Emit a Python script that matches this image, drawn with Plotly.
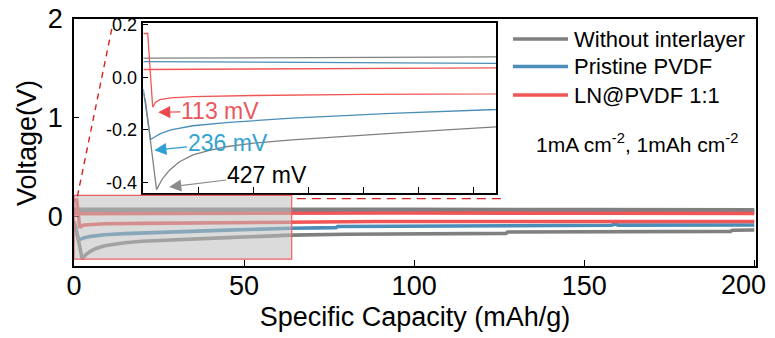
import plotly.graph_objects as go

# ---------------- data (specific capacity in mAh/g, voltage in V) ----------------
series_names = ["Without interlayer", "Pristine PVDF", "LN@PVDF 1:1"]
series_colors = ["#808080", "#4A8DB8", "#F05656"]

# stripping branch (upper, positive voltage)
gray_up_cap = [0, 20, 40, 64, 100, 150, 200]
gray_up_v = [0.073, 0.075, 0.077, 0.078, 0.074, 0.071, 0.069]
blue_up_cap = [0, 20, 40, 64, 100, 150, 200]
blue_up_v = [0.060, 0.058, 0.055, 0.053, 0.052, 0.051, 0.050]
red_up_cap = [0, 20, 40, 64, 91, 92, 94, 95, 150, 200]
red_up_v = [0.030, 0.032, 0.034, 0.036, 0.036, 0.044, 0.044, 0.036, 0.034, 0.033]

# plating branch (lower, nucleation dip then plateau)
gray_dn_cap = [0, 0.4, 2.4, 3.5, 4.8, 6.5, 9, 12, 15, 20, 27, 35, 45, 55, 64,
               80, 127, 127.5, 193, 193.5, 200]
gray_dn_v = [-0.06, -0.09, -0.427, -0.385, -0.352, -0.322, -0.295, -0.278, -0.264,
             -0.250, -0.238, -0.226, -0.213, -0.200, -0.188,
             -0.178, -0.170, -0.156, -0.150, -0.138, -0.136]
blue_dn_cap = [0, 1.3, 2, 3, 5, 7, 9, 15, 27, 45, 64, 77, 77.5, 105, 105.5,
               158, 159, 160, 200]
blue_dn_v = [-0.045, -0.236, -0.228, -0.215, -0.200, -0.191, -0.184, -0.172, -0.155,
             -0.137, -0.118, -0.112, -0.100, -0.097, -0.090,
             -0.088, -0.076, -0.086, -0.085]
red_dn_cap = [0, 0.8, 1.7, 2.2, 3, 5, 9, 20, 40, 64, 88, 88.5, 200]
red_dn_v = [0.167, 0.167, -0.113, -0.095, -0.085, -0.078, -0.073, -0.069, -0.065,
            -0.060, -0.058, -0.050, -0.050]

# nucleation overpotentials stated on the inset (mV)
overpotentials = [427, 236, 113]

# axis settings
main_x_range = [0, 200.5]
main_y_range = [-0.5, 2.0]
main_x_ticks = [0, 50, 100, 150, 200]
main_x_labels = ["0", "50", "100", "150", "200"]
main_y_ticks = [0, 1, 2]
inset_x_range = [0, 64]
inset_y_range = [-0.44, 0.207]
inset_x_ticks = [10, 20, 30, 40, 50, 60]
inset_y_ticks = [0.2, 0.0, -0.2, -0.4]
inset_y_labels = ["0.2", "0.0", "-0.2", "-0.4"]

FONT = "Arial, Liberation Sans, sans-serif"

up = [(gray_up_cap, gray_up_v), (blue_up_cap, blue_up_v), (red_up_cap, red_up_v)]
dn = [(gray_dn_cap, gray_dn_v), (blue_dn_cap, blue_dn_v), (red_dn_cap, red_dn_v)]

fig = go.Figure()

# draw blue first so its stripping line sits under the gray and red ones
order = [1, 0, 2]
for i in order:
    xs = list(up[i][0]) + [None] + list(dn[i][0])
    ys = list(up[i][1]) + [None] + list(dn[i][1])
    fig.add_trace(go.Scatter(x=xs, y=ys, mode="lines", name=series_names[i],
                             line=dict(color=series_colors[i], width=3.6),
                             showlegend=False, xaxis="x", yaxis="y"))
for i in order:
    xs = list(up[i][0]) + [None] + list(dn[i][0])
    ys = list(up[i][1]) + [None] + list(dn[i][1])
    fig.add_trace(go.Scatter(x=xs, y=ys, mode="lines", name=series_names[i],
                             line=dict(color=series_colors[i], width=1.3),
                             showlegend=False, xaxis="x2", yaxis="y2"))

axis_common = dict(showline=True, mirror=True, linecolor="black", linewidth=1.5,
                   ticks="inside", tickwidth=1.3, tickcolor="black",
                   showgrid=False, zeroline=False, automargin=False)

# plot-area pixel geometry
L, R, T, B = 74, 19, 19, 72
W, H = 775, 338
pw, ph = W - L - R, H - T - B


def px(xp):
    return (xp - L) / pw


def py(yp):
    return (H - B - yp) / ph


# the last x label sits at the page edge, so it is placed separately and nudged left
edge_label = main_x_labels[-1]
axis_x_labels = main_x_labels[:-1] + [""]

fig.update_layout(
    width=W, height=H,
    margin=dict(l=L, r=R, t=T, b=B, autoexpand=False),
    paper_bgcolor="white", plot_bgcolor="white",
    font=dict(family=FONT, color="black"),
    xaxis=dict(range=main_x_range, tickvals=main_x_ticks, ticktext=axis_x_labels,
               ticklen=6, tickfont=dict(size=27), ticklabelstandoff=-5,
               title=dict(text="Specific Capacity (mAh/g)", font=dict(size=27), standoff=7),
               **axis_common),
    yaxis=dict(range=main_y_range, tickvals=main_y_ticks, ticklen=5,
               tickfont=dict(size=27), ticklabelstandoff=4,
               **axis_common),
    xaxis2=dict(domain=[px(143.3), px(496)], anchor="y2", range=inset_x_range,
                tickvals=inset_x_ticks, ticklen=6, showticklabels=False,
                **axis_common),
    yaxis2=dict(domain=[py(193), py(23)], anchor="x2", range=inset_y_range,
                tickvals=inset_y_ticks, ticktext=inset_y_labels, ticklen=5,
                tickfont=dict(size=18), ticklabelstandoff=1,
                **axis_common),
)

box_x = inset_x_range
box_y = [-0.43, 0.215]
shapes = [
    # zoom window on the main axes
    dict(type="rect", xref="x", yref="y", x0=box_x[0], x1=box_x[1], y0=box_y[0], y1=box_y[1],
         fillcolor="rgba(190,190,190,0.55)", line=dict(color="#F06060", width=1.2),
         layer="above"),
    # guide lines from the window to the inset
    dict(type="line", xref="x", yref="y", x0=1.0, y0=0.205, x1=11.1, y1=1.9,
         line=dict(color="#D92020", width=1.4, dash="6px,5px")),
    dict(type="line", xref="x", yref="y", x0=65.5, y0=0.182, x1=127, y1=0.182,
         line=dict(color="#D92020", width=1.4, dash="9px,6px")),
]

annotations = [
    # y-axis title
    dict(xref="paper", yref="paper", x=px(27), y=py(143), text="Voltage(V)",
         textangle=-90, showarrow=False, xanchor="center", yanchor="middle",
         font=dict(size=27, color="black")),
    # right-most x tick label
    dict(xref="x", yref="paper", x=main_x_ticks[-1], y=0, text=edge_label,
         showarrow=False, xanchor="right", yanchor="top", xshift=14, yshift=-2,
         font=dict(size=27, color="black")),
]

# legend drawn by hand: long line samples next to the labels
legend_rows = [39, 66.5, 95]
legend_items = [0, 1, 2]
for row, i in zip(legend_rows, legend_items):
    shapes.append(dict(type="line", xref="paper", yref="paper",
                       x0=px(513), x1=px(568), y0=py(row), y1=py(row),
                       line=dict(color=series_colors[i], width=3.4)))
    annotations.append(dict(xref="paper", yref="paper", x=px(572), y=py(row),
                            text=series_names[i], showarrow=False, xanchor="left",
                            yanchor="middle", font=dict(size=22, color="black")))

annotations.append(dict(xref="paper", yref="paper", x=px(637), y=py(143),
                        text="1mA cm<sup>-2</sup>, 1mAh cm<sup>-2</sup>", showarrow=False,
                        xanchor="center", yanchor="middle",
                        font=dict(size=21, color="black")))

# overpotential labels; each arrow runs from its label to the dip (inset coordinates)
label_specs = [
    # (text colour, arrow colour, tip (x, V), text centre (x, V))
    ("#E8585B", "#E84A4E", (2.7, -0.133), (13.9, -0.128)),
    ("#35A2D0", "#2E9FD0", (2.0, -0.277), (15.3, -0.249)),
    ("black", "#8A8A8A", (4.7, -0.417), (22.4, -0.372)),
]
label_order = [2, 1, 0]  # red, blue, gray overpotentials
for (tc, ac, tip, ctr), k in zip(label_specs, label_order):
    annotations.append(dict(xref="x2", yref="y2", axref="x2", ayref="y2",
                            x=tip[0], y=tip[1], ax=ctr[0], ay=ctr[1],
                            text=f"{overpotentials[k]} mV",
                            showarrow=True, arrowhead=2, arrowsize=2.2,
                            arrowwidth=1.1, arrowcolor=ac, standoff=0,
                            borderpad=0, font=dict(size=23, color=tc)))

fig.update_layout(shapes=shapes, annotations=annotations)

fig.write_html("out.html")
